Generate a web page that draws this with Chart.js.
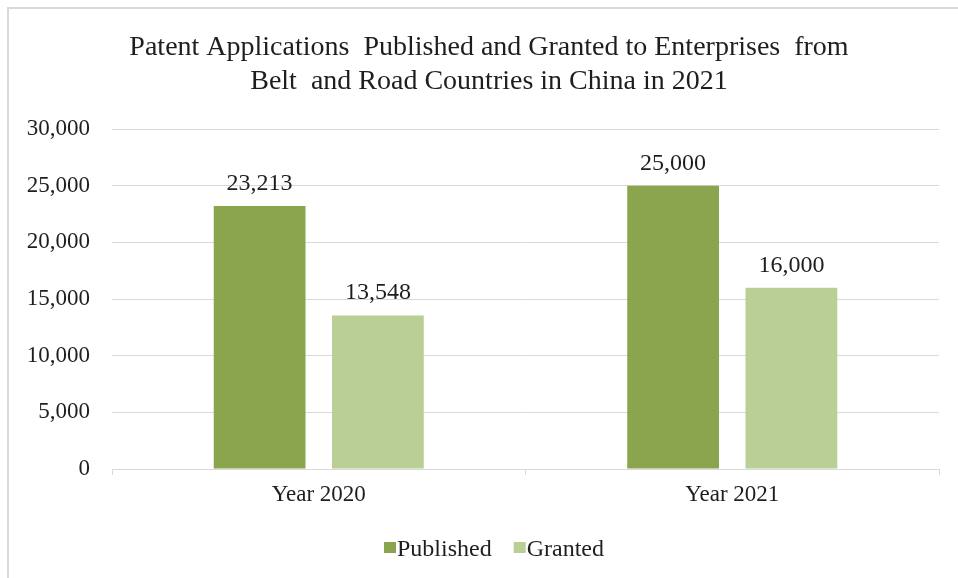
<!DOCTYPE html>
<html><head><meta charset="utf-8">
<script src="https://cdn.jsdelivr.net/npm/chart.js@4/dist/chart.umd.min.js"></script>
<style>html,body{margin:0;padding:0;background:#fff}#wrap{width:958px;height:578px;position:relative}</style>
</head><body><div id="wrap"><canvas id="c" width="958" height="578"></canvas></div>
<script>
const categories = ['Year 2020', 'Year 2021'];
const seriesNames = ['Published', 'Granted'];
const publishedValues = [23213, 25000];
const grantedValues = [13548, 16000];
const seriesColors = ['#8AA54E', '#B9CF96'];
const yTickValues = [0, 5000, 10000, 15000, 20000, 25000, 30000];
const titleLines = ['Patent Applications  Published and Granted to Enterprises  from', 'Belt  and Road Countries in China in 2021'];

const FONT = "'Liberation Serif', 'Times New Roman', serif";
const TEXT = '#1e1e1e';
const GRID = '#D9D9D9';
const fmt = v => Number(v).toLocaleString('en-US');

const frame = {
  id: 'frame',
  beforeDraw(chart) {
    const c = chart.ctx;
    c.save();
    c.fillStyle = '#fff';
    c.fillRect(0, 0, chart.width, chart.height);
    c.strokeStyle = GRID;
    c.lineWidth = 2;
    c.beginPath();
    c.moveTo(8, chart.height + 2);
    c.lineTo(8, 8);
    c.lineTo(chart.width + 2, 8);
    c.stroke();
    c.restore();
  }
};

const titlePlugin = {
  id: 'titlePlugin',
  afterDraw(chart) {
    const c = chart.ctx;
    c.save();
    c.font = '28px ' + FONT;
    c.fillStyle = TEXT;
    c.textAlign = 'center';
    c.textBaseline = 'middle';
    titleLines.forEach((line, i) => c.fillText(line, 489, 48 + i * 34));
    c.restore();
  }
};

const valueLabels = {
  id: 'valueLabels',
  afterDatasetsDraw(chart) {
    const c = chart.ctx;
    c.save();
    c.font = '24px ' + FONT;
    c.fillStyle = TEXT;
    c.textAlign = 'center';
    c.textBaseline = 'alphabetic';
    chart.data.datasets.forEach((ds, i) => {
      chart.getDatasetMeta(i).data.forEach((bar, j) => {
        c.fillText(fmt(ds.data[j]), bar.x, bar.y - 16);
      });
    });
    c.restore();
  }
};

const customLegend = {
  id: 'customLegend',
  afterDraw(chart) {
    const c = chart.ctx;
    c.save();
    c.font = '24px ' + FONT;
    c.textBaseline = 'alphabetic';
    c.textAlign = 'left';
    const box = 12, gapText = 1, gapItem = 22;
    const items = chart.data.datasets.map(ds => ({ label: ds.label, color: ds.backgroundColor, w: c.measureText(ds.label).width }));
    let total = 0;
    items.forEach((it, k) => { total += box + gapText + it.w + (k ? gapItem : 0); });
    let x = 494 - total / 2;
    const base = 556;
    items.forEach((it, k) => {
      if (k) x += gapItem;
      c.fillStyle = it.color;
      c.fillRect(x, base - 14, box, 11);
      x += box + gapText;
      c.fillStyle = TEXT;
      c.fillText(it.label, x, base);
      x += it.w;
    });
    c.restore();
  }
};

new Chart(document.getElementById('c'), {
  type: 'bar',
  data: {
    labels: categories,
    datasets: [
      { label: seriesNames[0], data: publishedValues, backgroundColor: seriesColors[0] },
      { label: seriesNames[1], data: grantedValues, backgroundColor: seriesColors[1] }
    ]
  },
  options: {
    responsive: false,
    animation: false,
    devicePixelRatio: 1,
    categoryPercentage: 0.572,
    barPercentage: 0.776,
    layout: { padding: { left: 0, right: 19, top: 129, bottom: 50 } },
    plugins: {
      legend: { display: false },
      tooltip: { enabled: false },
      title: { display: false }
    },
    scales: {
      x: {
        grid: { drawOnChartArea: false, drawTicks: true, tickLength: 6, color: GRID, offset: true },
        border: { color: GRID, width: 1 },
        ticks: { color: TEXT, font: { family: FONT, size: 23 }, padding: 6 },
        afterFit(s) { s.height = 59; }
      },
      y: {
        min: 0,
        max: 30000,
        afterBuildTicks(s) { s.ticks = yTickValues.map(v => ({ value: v })); },
        grid: { color: GRID, drawTicks: false },
        border: { display: false },
        ticks: { color: TEXT, font: { family: FONT, size: 23 }, padding: 22, callback: v => fmt(v) },
        afterFit(s) { s.width = 112; }
      }
    }
  },
  plugins: [frame, titlePlugin, valueLabels, customLegend]
});
</script></body></html>
